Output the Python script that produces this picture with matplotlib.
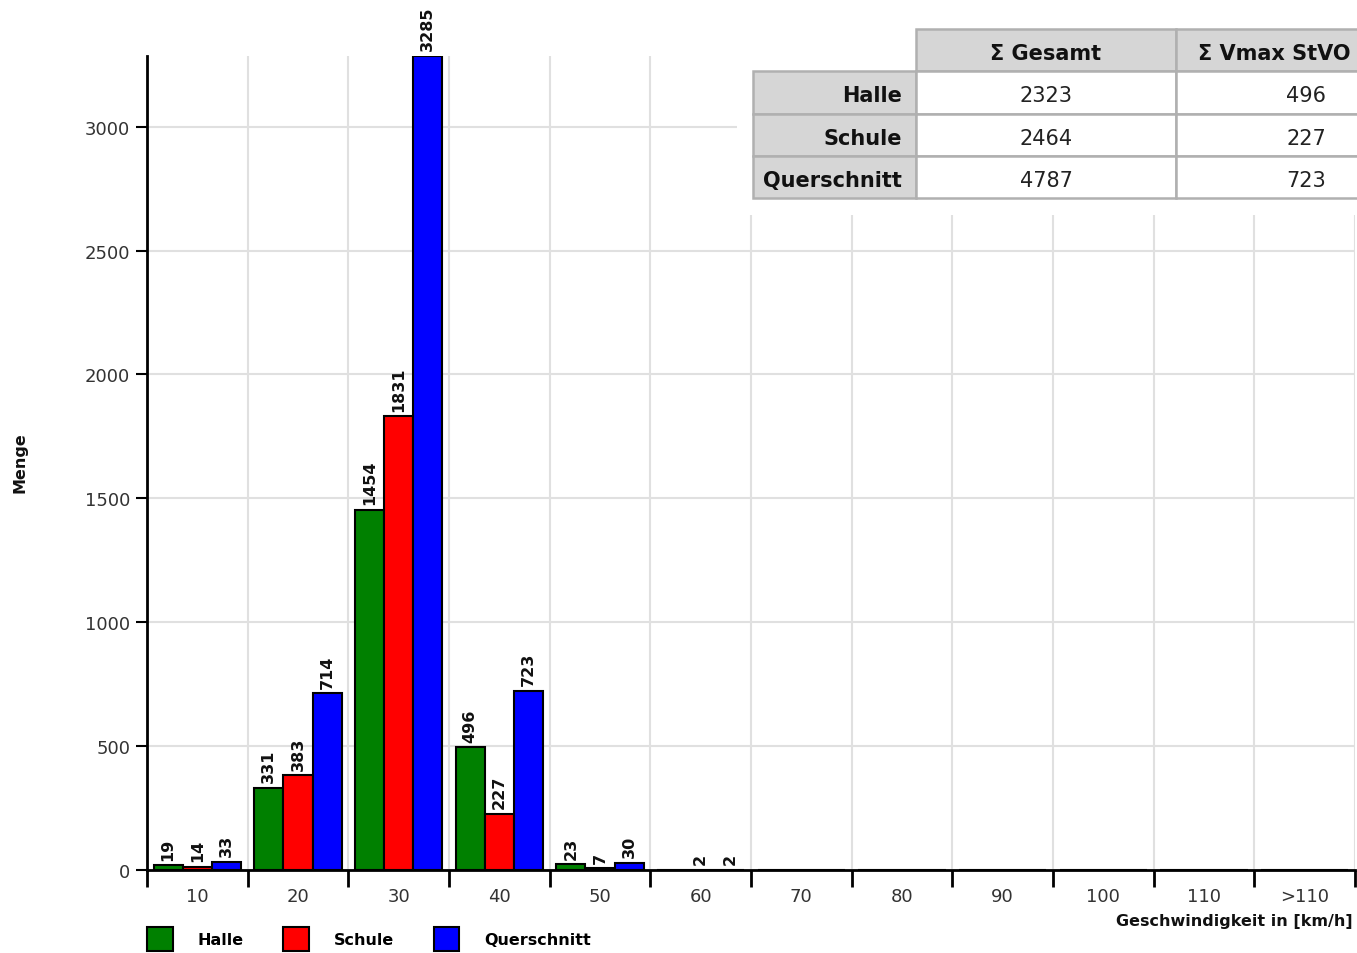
import matplotlib.pyplot as plt
from matplotlib.patches import Patch, Rectangle
import numpy as np

# Data
categories = ['10', '20', '30', '40', '50', '60', '70', '80', '90', '100', '110', '>110']
halle = [19, 331, 1454, 496, 23, 0, 0, 0, 0, 0, 0, 0]
schule = [14, 383, 1831, 227, 7, 2, 0, 0, 0, 0, 0, 0]
querschnitt = [33, 714, 3285, 723, 30, 2, 0, 0, 0, 0, 0, 0]
series_names = ['Halle', 'Schule', 'Querschnitt']
series_colors = ['#008000', '#ff0000', '#0000ff']

table_cols = ['Σ Gesamt', 'Σ Vmax StVO']
table_rows = ['Halle', 'Schule', 'Querschnitt']
table_gesamt = [2323, 2464, 4787]
table_vmax = [496, 227, 723]

W, H = 1357, 954
plt.rcParams['font.family'] = ['DejaVu Sans']
fig = plt.figure(figsize=(W / 100, H / 100), dpi=100)
ax = fig.add_axes([147 / W, 1 - 871 / H, (1355 - 147) / W, (871 - 57) / H])

x = np.arange(len(categories))
bw = 0.29
for k, (vals, col) in enumerate(zip([halle, schule, querschnitt], series_colors)):
    pos = x + (k - 1) * bw
    ax.bar(pos, vals, width=bw, color=col, edgecolor='black', linewidth=1.5, zorder=3)
    for p, v in zip(pos, vals):
        if v > 0:
            ax.annotate(str(v), (p, v), xytext=(0, 4), textcoords='offset points',
                        rotation=90, ha='center', va='bottom', fontsize=11.5,
                        fontweight='bold', color='#111111', zorder=4)

ax.set_xlim(-0.5, len(categories) - 0.5)
ax.set_ylim(0, 3285)
ax.set_yticks(np.arange(0, 3001, 500))
ax.set_xticks(np.arange(-0.5, len(categories), 1.0))
ax.set_xticklabels([])
ax.set_xticks(x, minor=True)
ax.set_xticklabels(categories, minor=True)
ax.tick_params(axis='x', which='major', length=12, width=2, color='black')
ax.tick_params(axis='x', which='minor', length=0, pad=12, labelsize=13, labelcolor='#333333')
ax.tick_params(axis='y', length=8, width=1.5, pad=4, labelsize=13, labelcolor='#333333')
ax.grid(True, which='major', color='#e0e0e0', linewidth=1.5)
ax.set_axisbelow(True)
for s in ['top', 'right']:
    ax.spines[s].set_visible(False)
for s in ['left', 'bottom']:
    ax.spines[s].set_linewidth(2)

fig.text(20 / W, 1 - 463 / H, 'Menge', rotation=90, ha='center', va='center',
         fontsize=11.5, fontweight='bold', color='#111111')
fig.text(1353 / W, 1 - 922 / H, 'Geschwindigkeit in [km/h]', ha='right', va='center',
         fontsize=11.5, fontweight='bold', color='#111111')

handles = [Patch(facecolor=c, edgecolor='black', linewidth=1.5) for c in series_colors]
fig.legend(handles, series_names, loc='center left', bbox_to_anchor=(147 / W, 1 - 940 / H),
           ncol=3, frameon=False, borderpad=0, borderaxespad=0,
           handlelength=1.6, handleheight=2.0, handletextpad=1.55, columnspacing=2.5,
           prop={'size': 11.5, 'weight': 'bold'})

# Summary table overlay
tx0, tx1, ty0, ty1 = 737, 1460, 12, 216
tax = fig.add_axes([tx0 / W, 1 - ty1 / H, (tx1 - tx0) / W, (ty1 - ty0) / H], zorder=5)
tax.set_xlim(tx0, tx1)
tax.set_ylim(ty1, ty0)
tax.set_facecolor('white')
tax.set_xticks([])
tax.set_yticks([])
for s in tax.spines.values():
    s.set_visible(False)

col_edges = [753, 916, 1176, 1440]
row_edges = [30, 72, 115, 157, 199]
gray = '#d6d6d6'
edge = '#b0b0b0'
for j in range(2):
    tax.add_patch(Rectangle((col_edges[j + 1], row_edges[0]), col_edges[j + 2] - col_edges[j + 1],
                            row_edges[1] - row_edges[0], facecolor=gray, edgecolor=edge, lw=1.8))
    tax.text((col_edges[j + 1] + col_edges[j + 2]) / 2 if j == 0 else 1274,
             (row_edges[0] + row_edges[1]) / 2 + 3, table_cols[j],
             ha='center', va='center', fontsize=15, fontweight='bold', color='#111111')
for i, name in enumerate(table_rows):
    y0, y1 = row_edges[i + 1], row_edges[i + 2]
    yc = (y0 + y1) / 2 + 3
    tax.add_patch(Rectangle((col_edges[0], y0), col_edges[1] - col_edges[0], y1 - y0,
                            facecolor=gray, edgecolor=edge, lw=1.8))
    tax.add_patch(Rectangle((col_edges[1], y0), col_edges[2] - col_edges[1], y1 - y0,
                            facecolor='white', edgecolor=edge, lw=1.8))
    tax.add_patch(Rectangle((col_edges[2], y0), col_edges[3] - col_edges[2], y1 - y0,
                            facecolor='white', edgecolor=edge, lw=1.8))
    tax.text(902, yc, name, ha='right', va='center', fontsize=15, fontweight='bold', color='#111111')
    tax.text(1046, yc, str(table_gesamt[i]), ha='center', va='center', fontsize=15, color='#222222')
    tax.text(1326, yc, str(table_vmax[i]), ha='right', va='center', fontsize=15, color='#222222')

fig.savefig('out.png', dpi=100, facecolor='white')
